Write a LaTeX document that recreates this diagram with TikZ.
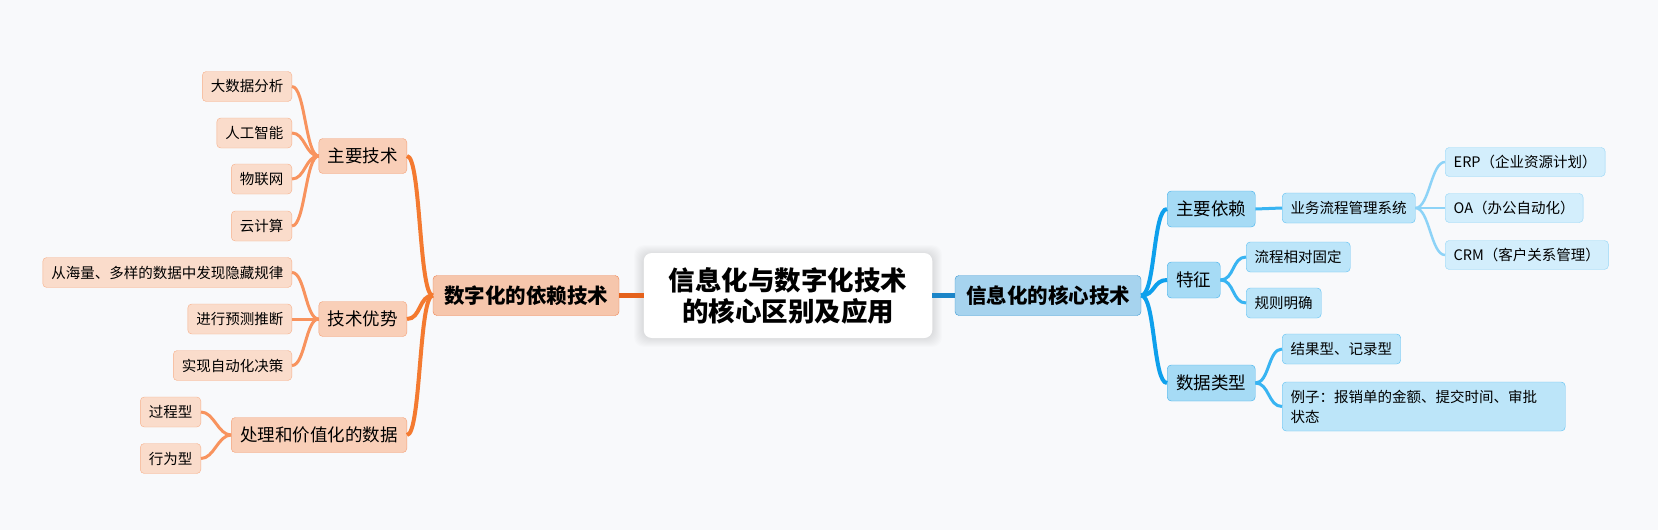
\documentclass[tikz,border=0pt]{standalone}
\usepackage{fontspec}
\setmainfont{Noto Sans CJK SC}
\usepackage{xcolor}
\usepackage{tikz}
\usetikzlibrary{shapes, positioning}

\definecolor{bgcol}{HTML}{F8F9FB}
\definecolor{orgDeep}{HTML}{E5621C}
\definecolor{orgMain}{HTML}{F47A30}
\definecolor{orgLight}{HTML}{F8935E}
\definecolor{bluDeep}{HTML}{1B85C8}
\definecolor{bluMain}{HTML}{0EA0EC}
\definecolor{bluLight}{HTML}{38B4F2}
\definecolor{bluPale}{HTML}{8DD3F7}

\begin{document}
\begin{tikzpicture}[
        x=1pt, y=-1pt,
        rootbox/.style={
            rectangle,
            fill=white,
            rounded corners=8pt,
            align=center,
            inner xsep=25pt,
            minimum height=85pt,
            font=\fontsize{26.5}{31}\selectfont\bfseries
        },
        lbranch/.style={
            rectangle,
            draw={rgb,255:red,238;green,130;blue,80},
            fill={rgb,255:red,246;green,198;blue,172},
            rounded corners=4pt,
            inner xsep=11pt,
            minimum height=40pt,
            font=\fontsize{20.5}{24}\selectfont\bfseries
        },
        lsub/.style={
            rectangle,
            draw={rgb,255:red,244;green,160;blue,118},
            fill={rgb,255:red,249;green,207;blue,184},
            rounded corners=4pt,
            inner xsep=9pt,
            minimum height=35pt,
            font=\fontsize{17.5}{21}\selectfont
        },
        lleaf/.style={
            rectangle,
            draw={rgb,255:red,247;green,176;blue,138},
            fill={rgb,255:red,250;green,220;blue,203},
            rounded corners=4pt,
            inner xsep=8.5pt,
            minimum height=30pt,
            font=\fontsize{14.5}{17}\selectfont
        },
        rbranch/.style={
            rectangle,
            draw={rgb,255:red,61;green,154;blue,212},
            fill={rgb,255:red,166;green,211;blue,238},
            rounded corners=4pt,
            inner xsep=11pt,
            minimum height=40pt,
            font=\fontsize{20.5}{24}\selectfont\bfseries
        },
        rsub/.style={
            rectangle,
            draw={rgb,255:red,63;green,176;blue,236},
            fill={rgb,255:red,166;green,219;blue,245},
            rounded corners=4pt,
            inner xsep=9pt,
            minimum height=36pt,
            font=\fontsize{17.5}{21}\selectfont
        },
        rleaf/.style={
            rectangle,
            draw={rgb,255:red,94;green,192;blue,242},
            fill={rgb,255:red,188;green,229;blue,249},
            rounded corners=4pt,
            inner xsep=8.5pt,
            minimum height=30pt,
            font=\fontsize{14.5}{17}\selectfont
        },
        rtip/.style={
            rectangle,
            draw={rgb,255:red,148;green,214;blue,247},
            fill={rgb,255:red,211;green,238;blue,252},
            rounded corners=4pt,
            inner xsep=8.5pt,
            minimum height=29pt,
            font=\fontsize{14.5}{17}\selectfont
        },
        haze/.style={fill=black, opacity=0.011},
        lroot/.style={line width=5pt, orgDeep},
        ltrunk/.style={line width=4pt, orgMain, out=180, in=0, distance=14pt},
        ltwig/.style={line width=3pt, orgLight, out=180, in=0, distance=13pt},
        rroot/.style={line width=5pt, bluDeep},
        rtrunk/.style={line width=4pt, bluMain, out=0, in=180, distance=14pt},
        rtwig/.style={line width=3pt, bluLight, out=0, in=180, distance=14pt},
        rfine/.style={line width=2.5pt, bluPale, out=0, in=180, distance=14pt}
    ]
        \fill[bgcol] (0,0) rectangle (1658,530);
        \useasboundingbox (0,0) rectangle (1658,530);

        % soft glow under the title
        \foreach \s in {1,...,9}
            \fill[haze, rounded corners=10pt] (643-\s,254-\s) rectangle (933+\s,338+\s);

        % Nodes
        \node[rootbox] (root) at (788,295.5) {信息化与数字化技术\\的核心区别及应用};

        \node[lbranch] (digital) at (526,295.5) {数字化的依赖技术};
        \node[lsub, anchor=east] (mainTech) at (407,156) {主要技术};
        \node[lsub, anchor=east] (techAdv) at (407,319) {技术优势};
        \node[lsub, anchor=east] (dataProc) at (407,435) {处理和价值化的数据};

        \node[lleaf, anchor=east] (bigData) at (292,86.5) {大数据分析};
        \node[lleaf, anchor=east] (ai) at (292,133) {人工智能};
        \node[lleaf, anchor=east] (iot) at (292,179) {物联网};
        \node[lleaf, anchor=east] (cloud) at (292,226) {云计算};
        \node[lleaf, anchor=east] (findRules) at (292,272.5) {从海量、多样的数据中发现隐藏规律};
        \node[lleaf, anchor=east] (predict) at (292,319) {进行预测推断};
        \node[lleaf, anchor=east] (autoDecide) at (292,365.5) {实现自动化决策};
        \node[lleaf, anchor=east] (process) at (201,412) {过程型};
        \node[lleaf, anchor=east] (behavior) at (201,458.5) {行为型};

        \node[rbranch] (info) at (1048,295.5) {信息化的核心技术};
        \node[rsub, anchor=west] (mainDep) at (1167,209) {主要依赖};
        \node[rsub, anchor=west] (feature) at (1167,280) {特征};
        \node[rsub, anchor=west] (dataType) at (1167,383) {数据类型};

        \node[rleaf, anchor=west] (bpm) at (1282,208) {业务流程管理系统};
        \node[rleaf, anchor=west] (fixedFlow) at (1246,257) {流程相对固定};
        \node[rleaf, anchor=west] (clearRules) at (1246,303) {规则明确};
        \node[rleaf, anchor=west] (resultType) at (1282,349) {结果型、记录型};
        \node[rleaf, anchor=west, text width=266pt, align=left, minimum height=49pt,
              font=\fontsize{14.5}{20}\selectfont] (example) at (1282,406.5)
              {例子：报销单的金额、提交时间、审批\\状态};

        \node[rtip, anchor=west] (erp) at (1445,162) {ERP（企业资源计划）};
        \node[rtip, anchor=west] (oa) at (1445,208) {OA（办公自动化）};
        \node[rtip, anchor=west] (crm) at (1445,255) {CRM（客户关系管理）};

        % Edges
        \draw[lroot] (root) -- (digital);
        \draw[rroot] (root) -- (info);

        \draw[ltrunk] (digital.west) to (mainTech.east);
        \draw[ltrunk] (digital.west) to (techAdv.east);
        \draw[ltrunk] (digital.west) to (dataProc.east);

        \draw[ltwig] (mainTech.west) to (bigData.east);
        \draw[ltwig] (mainTech.west) to (ai.east);
        \draw[ltwig] (mainTech.west) to (iot.east);
        \draw[ltwig] (mainTech.west) to (cloud.east);
        \draw[ltwig] (techAdv.west) to (findRules.east);
        \draw[ltwig] (techAdv.west) to (predict.east);
        \draw[ltwig] (techAdv.west) to (autoDecide.east);
        \draw[ltwig] (dataProc.west) to (process.east);
        \draw[ltwig] (dataProc.west) to (behavior.east);

        \draw[rtrunk] (info.east) to (mainDep.west);
        \draw[rtrunk] (info.east) to (feature.west);
        \draw[rtrunk] (info.east) to (dataType.west);

        \draw[rtwig] (mainDep.east) to (bpm.west);
        \draw[rtwig] (feature.east) to (fixedFlow.west);
        \draw[rtwig] (feature.east) to (clearRules.west);
        \draw[rtwig] (dataType.east) to (resultType.west);
        \draw[rtwig] (dataType.east) to (example.west);

        \draw[rfine] (bpm.east) to (erp.west);
        \draw[rfine] (bpm.east) to (oa.west);
        \draw[rfine] (bpm.east) to (crm.west);
    \end{tikzpicture}
\end{document}
